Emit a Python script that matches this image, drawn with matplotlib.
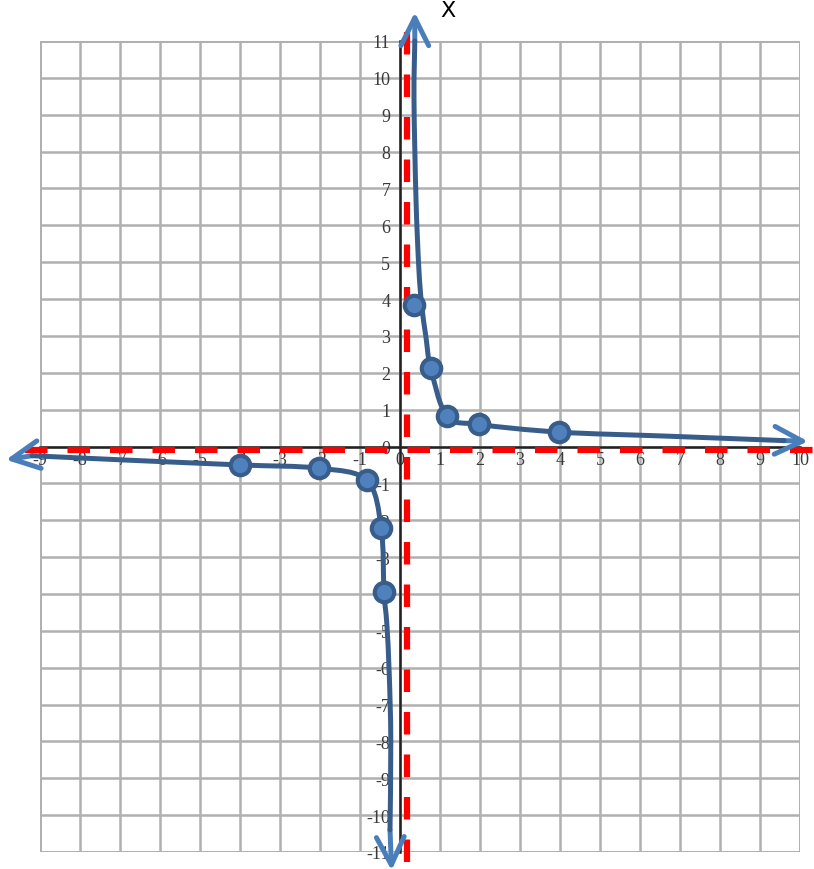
import numpy as np
import matplotlib
matplotlib.use("Agg")
import matplotlib.pyplot as plt
from matplotlib.path import Path
from matplotlib.patches import PathPatch, Rectangle

plt.rcParams["axes.unicode_minus"] = False

# ---------- data ----------
X_TICKS = list(range(-9, 11))
Y_TICKS = list(range(-11, 12))

# traced points along the drawn curve
LEFT_X = [-9.2, -6.6, -4.0, -2.02, -0.83, -0.47, -0.40, -0.33, -0.27, -0.23, -0.25]
LEFT_Y = [-0.25, -0.38, -0.50, -0.59, -0.92, -2.21, -3.95, -4.8, -6.15, -7.97, -10.4]
RIGHT_X = [0.37, 0.35, 0.40, 0.47, 0.54, 0.65, 0.77, 1.18, 1.98, 3.98, 6.7, 9.6]
RIGHT_Y = [11.0, 9.4, 6.7, 4.85, 3.85, 2.96, 2.12, 0.82, 0.60, 0.39, 0.28, 0.16]

# the plotted dots
DOTS_X = [-4.0, -2.02, -0.83, -0.47, -0.40, 0.36, 0.77, 1.18, 1.98, 3.98]
DOTS_Y = [-0.50, -0.59, -0.92, -2.21, -3.95, 3.85, 2.12, 0.82, 0.60, 0.39]

# arrow tips at the ends of the branches
LEFT_TIPS = [(-9.85, -0.36), (-0.21, -11.5)]
RIGHT_TIPS = [(0.37, 11.78), (10.2, 0.14)]

# dashed red asymptotes
ASYM_X = 0.17
ASYM_Y = -0.09

LINE_COL = "#385D8A"
DOT_COL = "#4F81BD"
ARROW_COL = "#4A7EBB"
GRID_COL = "#b0b0b0"


def smooth_path(xs, ys):
    # catmull-rom through the traced points, as bezier segments
    pts = np.column_stack([xs, ys]).astype(float)
    verts = [pts[0]]
    codes = [Path.MOVETO]
    n = len(pts)
    for i in range(n - 1):
        p0 = pts[i - 1] if i > 0 else pts[i]
        p1 = pts[i]
        p2 = pts[i + 1]
        p3 = pts[i + 2] if i + 2 < n else pts[i + 1]
        verts += [p1 + (p2 - p0) / 6, p2 - (p3 - p1) / 6, p2]
        codes += [Path.CURVE4] * 3
    return Path(verts, codes)


fig = plt.figure(figsize=(8.14, 8.70), dpi=100)
ax = fig.add_axes([40 / 814, 17 / 870, 760 / 814, 811 / 870])
ax.set_xlim(X_TICKS[0], X_TICKS[-1])
ax.set_ylim(Y_TICKS[0], Y_TICKS[-1])

# grid + border
ax.set_xticks(X_TICKS)
ax.set_yticks(Y_TICKS)
ax.grid(True, color=GRID_COL, lw=1.8, zorder=0)
ax.add_patch(Rectangle((0, 0), 1, 1, transform=ax.transAxes, fill=False,
                       ec=GRID_COL, lw=2, zorder=1))

for s in ["top", "right"]:
    ax.spines[s].set_visible(False)
ax.spines["left"].set_position("zero")
ax.spines["bottom"].set_position("zero")
for s in ["left", "bottom"]:
    ax.spines[s].set_color("#222222")
    ax.spines[s].set_linewidth(1.8)
    ax.spines[s].set_zorder(2)

ax.tick_params(length=0, labelsize=13, labelcolor="#3a3a3a")
ax.tick_params(axis="x", pad=3)
ax.tick_params(axis="y", pad=7)
for lab in ax.get_xticklabels() + ax.get_yticklabels():
    lab.set_fontfamily("Liberation Serif")

# asymptotes
ax.axhline(ASYM_Y, xmin=-0.02, xmax=1.02, color="red", lw=4.5,
           dashes=(3.6, 3.2), clip_on=False, zorder=3)
ax.axvline(ASYM_X, ymin=-0.012, ymax=1.014, color="red", lw=4.5,
           dashes=(3.6, 3.2), clip_on=False, zorder=3)

# arrow heads
arrow_style = "->,head_length=1.0,head_width=0.5"
for xs, ys, tips in [(LEFT_X, LEFT_Y, LEFT_TIPS), (RIGHT_X, RIGHT_Y, RIGHT_TIPS)]:
    tails = [(xs[0], ys[0]), (xs[-1], ys[-1])]
    for tail, tip in zip(tails, tips):
        ax.annotate("", xy=tip, xytext=tail, annotation_clip=False,
                    arrowprops=dict(arrowstyle=arrow_style, color=ARROW_COL,
                                    lw=3.6, mutation_scale=20,
                                    shrinkA=0, shrinkB=0, capstyle="round"),
                    zorder=4)

# curve branches
for xs, ys in [(LEFT_X, LEFT_Y), (RIGHT_X, RIGHT_Y)]:
    ax.add_patch(PathPatch(smooth_path(xs, ys), fill=False, ec=LINE_COL,
                           lw=3.6, capstyle="round", clip_on=False, zorder=5))

ax.plot(DOTS_X, DOTS_Y, "o", ms=14, mfc=DOT_COL, mec=LINE_COL, mew=3,
        zorder=6, clip_on=False)

# heading letter at the top (cropped in the source, kept whole here)
fig.text(448 / 814, (870 - 17) / 870, "X", fontsize=16, family="DejaVu Sans",
         ha="center", va="baseline", color="black")

fig.savefig("out.png", dpi=100)
